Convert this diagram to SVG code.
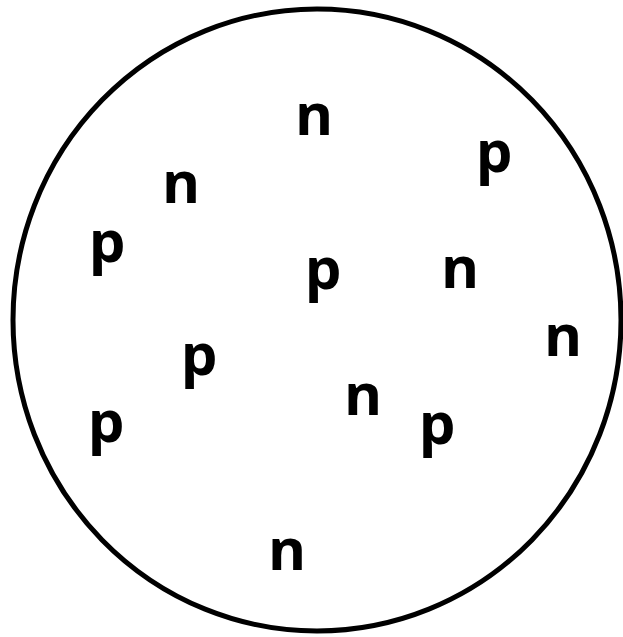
<svg xmlns="http://www.w3.org/2000/svg" width="623" height="637" viewBox="0 0 623 637">
<style>
.lbl{font-family:"Open Sans","Liberation Sans",sans-serif;font-weight:bold;font-size:58px;fill:#000;text-anchor:middle}
</style>
<rect width="623" height="637" fill="#fff"/>
<g id="nucleus"><ellipse cx="317" cy="320" rx="304" ry="311" fill="none" stroke="#000" stroke-width="5"/></g>
<g id="n1"><text class="lbl" x="314" y="135">n</text></g>
<g id="p1"><text class="lbl" x="494" y="172">p</text></g>
<g id="n2"><text class="lbl" x="181" y="203">n</text></g>
<g id="p2"><text class="lbl" x="107" y="262">p</text></g>
<g id="p3"><text class="lbl" x="323" y="289">p</text></g>
<g id="n3"><text class="lbl" x="460" y="288">n</text></g>
<g id="n4"><text class="lbl" x="563" y="356">n</text></g>
<g id="p4"><text class="lbl" x="199" y="375">p</text></g>
<g id="n5"><text class="lbl" x="363" y="415">n</text></g>
<g id="p5"><text class="lbl" x="106" y="442">p</text></g>
<g id="p6"><text class="lbl" x="437" y="444">p</text></g>
<g id="n6"><text class="lbl" x="287" y="570">n</text></g>
<g id="connectors"/>
</svg>
